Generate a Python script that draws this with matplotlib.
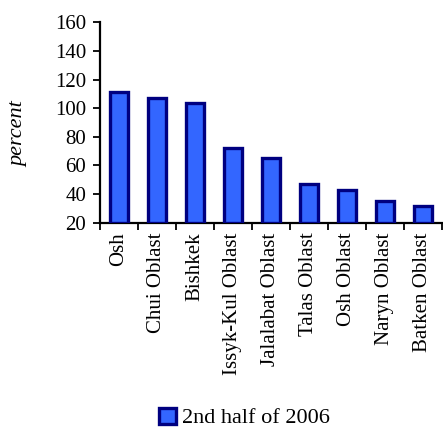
import matplotlib
matplotlib.use("Agg")
import matplotlib.pyplot as plt
import numpy as np

categories = ["Osh", "Chui Oblast", "Bishkek", "Issyk-Kul Oblast", "Jalalabat Oblast",
              "Talas Oblast", "Osh Oblast", "Naryn Oblast", "Batken Oblast"]
values = [111, 107, 104, 72, 65, 47, 43, 35, 32]
series_name = "2nd half of 2006"
yticks = [20, 40, 60, 80, 100, 120, 140, 160]

plt.rcParams['font.family'] = ['Liberation Serif', 'DejaVu Serif']

fig = plt.figure(figsize=(4.43, 4.30), dpi=100)
ax = fig.add_axes([0.2257, 0.482, 0.772, 0.466])

x = np.arange(len(categories))
ax.bar(x, [v - 20 for v in values], bottom=20, width=0.46, color='#3366FF',
       edgecolor='#000080', linewidth=2.4, label=series_name, zorder=3)

ax.set_ylim(20, 160)
ax.set_xlim(-0.5, len(categories) - 0.5)
ax.set_yticks(yticks)
ax.set_yticklabels([str(t) for t in yticks], fontsize=15)
ax.set_xticks(x)
ax.set_xticklabels(categories, rotation=90, fontsize=15)
ax.tick_params(axis='x', length=0, pad=7)
ax.set_xticks(np.arange(len(categories) + 1) - 0.5, minor=True)
ax.tick_params(axis='x', which='minor', length=5, width=1.3, direction='out')
ax.tick_params(axis='y', length=5, width=1.3, direction='out', pad=5)

for s in ['top', 'right']:
    ax.spines[s].set_visible(False)
for s in ['left', 'bottom']:
    ax.spines[s].set_linewidth(1.6)

ax.set_ylabel("percent", fontsize=16, style='italic')
ax.yaxis.set_label_coords(-0.21, 0.44)

fig.legend(loc='center', bbox_to_anchor=(0.552, 0.028), frameon=False, fontsize=16,
           handlelength=0.75, handleheight=0.75, handletextpad=0.25,
           borderpad=0.1)

fig.savefig("out.png", dpi=100)
